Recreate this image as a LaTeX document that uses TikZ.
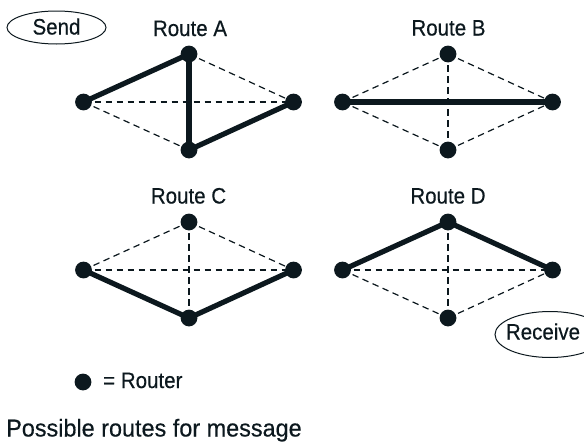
\documentclass[tikz,border=0pt]{standalone}
\usepackage{fontspec}
\setmainfont{Liberation Sans}
\newfontfamily\labfont[FakeStretch=0.92,FakeBold=0.4]{Liberation Sans}
\newfontfamily\capfont[FakeStretch=0.96,FakeBold=0.4]{Liberation Sans}
\usetikzlibrary{shapes.geometric}
\definecolor{ink}{RGB}{12,24,30}
\pgfdeclarelayer{paper}
\pgfdeclarelayer{bg}
\pgfsetlayers{paper,bg,main}
\begin{document}
\begin{tikzpicture}[x=1pt,y=-1pt,
  router/.style={circle, fill=ink, inner sep=0pt, minimum size=16.8pt},
  routeline/.style={draw=ink, line width=5.2pt, line cap=round},
  altline/.style={draw=ink, line width=1.2pt, dash pattern=on 6.5pt off 4.5pt},
  lbl/.style={font=\labfont\fontsize{22.3}{26}\selectfont, text=ink, inner sep=0pt},
  endpoint/.style={draw=ink, line width=1pt, ellipse, inner sep=0pt}]
\useasboundingbox (0,0) rectangle (584,442);
\path[clip] (0,0) rectangle (584,442);
\begin{pgfonlayer}{paper}
  \fill[white] (0,0) rectangle (584,442);
\end{pgfonlayer}

% routers of the four networks
\foreach \n/\x/\y in {A/189/54, B/448/54, C/189/222, D/448/222} {
  \node[router] (\n-t) at (\x,\y) {};
  \node[router] (\n-l) at (\x-105.5,\y+48) {};
  \node[router] (\n-r) at (\x+104.5,\y+48) {};
  \node[router] (\n-b) at (\x,\y+96) {};
}

% titles
\node[lbl, anchor=base] (tA) at (190,36) {Route A};
\node[lbl, anchor=base] (tB) at (448.5,35.5) {Route B};
\node[lbl, anchor=base] (tC) at (188.5,203.5) {Route C};
\node[lbl, anchor=base] (tD) at (448,203.5) {Route D};

% send / receive
\node[endpoint, minimum width=99pt, minimum height=33pt] (send) at (56.5,27.5) {};
\node[lbl, anchor=base] (sendtext) at (56.5,34.5) {Send};
\node[endpoint, minimum width=110pt, minimum height=46pt] (recv) at (550,334.5) {};
\node[lbl, anchor=base] (recvtext) at (543,339.5) {Receive};

% legend and caption
\node[router] (key) at (83,382) {};
\node[lbl, anchor=base west] (keytext) at (103,388) {= Router};
\node[anchor=base west, inner sep=0pt, text=ink, font=\capfont\fontsize{24.4}{28}\selectfont] (cap) at (6,436.5) {Possible routes for message};

\begin{pgfonlayer}{bg}
  % Route A
  \draw[altline] (A-l.center) -- (A-r.center);
  \draw[altline] (A-l.center) -- (A-b.center);
  \draw[altline] (A-t.center) -- (A-r.center);
  \draw[routeline] (A-l.center) -- (A-t.center);
  \draw[routeline] (A-t.center) -- (A-b.center);
  \draw[routeline] (A-b.center) -- (A-r.center);
  % Route B
  \draw[altline] (B-l.center) -- (B-t.center);
  \draw[altline] (B-t.center) -- (B-r.center);
  \draw[altline] (B-l.center) -- (B-b.center);
  \draw[altline] (B-b.center) -- (B-r.center);
  \draw[altline] (B-t.center) -- (B-b.center);
  \draw[routeline] (B-l.center) -- (B-r.center);
  % Route C
  \draw[altline] (C-l.center) -- (C-t.center);
  \draw[altline] (C-t.center) -- (C-r.center);
  \draw[altline] (C-l.center) -- (C-r.center);
  \draw[altline] (C-t.center) -- (C-b.center);
  \draw[routeline] (C-l.center) -- (C-b.center);
  \draw[routeline] (C-b.center) -- (C-r.center);
  % Route D
  \draw[altline] (D-l.center) -- (D-r.center);
  \draw[altline] (D-l.center) -- (D-b.center);
  \draw[altline] (D-b.center) -- (D-r.center);
  \draw[altline] (D-t.center) -- (D-b.center);
  \draw[routeline] (D-l.center) -- (D-t.center);
  \draw[routeline] (D-t.center) -- (D-r.center);
\end{pgfonlayer}
\end{tikzpicture}
\end{document}
